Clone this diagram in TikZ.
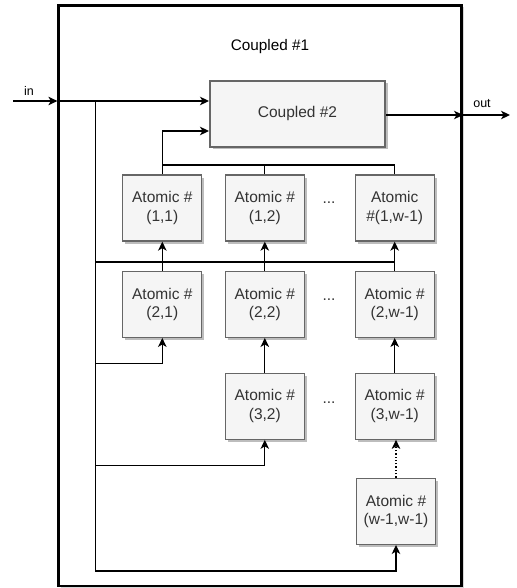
\documentclass[tikz,border=0pt]{standalone}
\usepackage{fontspec}
\setmainfont{Liberation Sans}
\usetikzlibrary{arrows.meta,shadows}
\definecolor{boxfill}{HTML}{F5F5F5}
\definecolor{boxline}{HTML}{666666}
\definecolor{txt}{HTML}{333333}
\definecolor{shd}{HTML}{BDBDBD}
\tikzset{
  atom/.style={draw=boxline, line width=1.3pt, fill=boxfill, text=txt,
    minimum width=79pt, minimum height=66pt, inner sep=0pt, align=center,
    font=\fontsize{15.5}{18.5}\selectfont,
    drop shadow={shadow xshift=2.5pt, shadow yshift=-2.5pt, fill=shd, opacity=1}},
  cpl/.style={atom, line width=2pt, minimum width=175pt},
  outerbox/.style={draw=black, line width=2.6pt, minimum width=403pt, minimum height=580.7pt, inner sep=0pt,
    drop shadow={shadow xshift=2pt, shadow yshift=-2pt, fill=shd!60, opacity=1}, fill=white},
  lbl/.style={text=black, font=\fontsize{15.3}{18}\selectfont, inner sep=0pt},
  small/.style={text=black, font=\fontsize{12.5}{15}\selectfont, inner sep=0pt},
  wire/.style={draw=black, line width=1.3pt},
  arr/.style={wire, -{Stealth[length=9pt, width=8.5pt, inset=2.5pt]}},
  dotsn/.style={text=txt, font=\fontsize{15.5}{18}\selectfont, inner sep=0pt},
}
\begin{document}
\begin{tikzpicture}[x=1pt, y=-1pt]
\useasboundingbox (0,0) rectangle (516,588);
\node[outerbox] (outer) at (260.2,295.6) {};
\node[lbl] (c1lab) at (270,47) {Coupled \#1};
\node[small, anchor=south] (inlab) at (29,96) {in};
\node[small, anchor=south] (outlab) at (482,108) {out};

\node[cpl] (cp2) at (297.5,113.7) {Coupled \#2};

\node[atom] (a11) at (162.3,208) {Atomic \#\\(1,1)};
\node[atom] (a12) at (264.8,208) {Atomic \#\\(1,2)};
\node[atom] (a13) at (394.7,208) {Atomic\\\#(1,w-1)};
\node[atom] (a21) at (162.3,304.3) {Atomic \#\\(2,1)};
\node[atom] (a22) at (264.8,304.3) {Atomic \#\\(2,2)};
\node[atom] (a23) at (394.7,304.3) {Atomic \#\\(2,w-1)};
\node[atom] (a32) at (264.8,406.2) {Atomic \#\\(3,2)};
\node[atom] (a33) at (394.7,406.2) {Atomic \#\\(3,w-1)};
\node[atom] (a43) at (396,511.3) {Atomic \#\\(w-1,w-1)};

\node[dotsn] (d1) at (329,203) {...};
\node[dotsn] (d2) at (329,300) {...};
\node[dotsn] (d3) at (329,403) {...};

% input
\coordinate (inS) at (13,101);
\coordinate (inJ) at (outer.west |- 0,101);
\coordinate (bus) at (95.7,101);
\draw[arr] (inS) -- (inJ);
\draw[arr] (inJ) -- (cp2.west |- 0,101);
% output
\coordinate (outJ) at (outer.east |- 0,115);
\coordinate (outS) at (510,115);
\draw[arr] (cp2.east |- 0,115) -- (outJ);
\draw[arr] (outJ) -- (outS);
% top bus to Coupled #2
\draw[arr] (a11.north) |- (cp2.west |- 0,131);
\draw[wire] (a11.north |- 0,165) -- (a13.north |- 0,165);
\draw[wire] (a12.north) -- (a12.north |- 0,165);
\draw[wire] (a13.north) -- (a13.north |- 0,165);
% row 1 inputs
\draw[wire] (bus |- 0,262) -- (a13.south |- 0,262);
\draw[arr] (a21.north) -- (a11.south);
\draw[arr] (a22.north) -- (a12.south);
\draw[arr] (a23.north) -- (a13.south);
% row 2 inputs
\draw[arr] (bus |- 0,363.3) -| (a21.south);
\draw[arr] (a32.north) -- (a22.south);
\draw[arr] (a33.north) -- (a23.south);
% row 3 inputs
\draw[arr] (bus |- 0,465.3) -| (a32.south);
\draw[arr, dash pattern=on 1.3pt off 2pt] (a43.north) -- (a43.north |- a33.south);
% bottom
\draw[arr] (bus) |- (a43.south |- 0,571) -- (a43.south);
\end{tikzpicture}
\end{document}
